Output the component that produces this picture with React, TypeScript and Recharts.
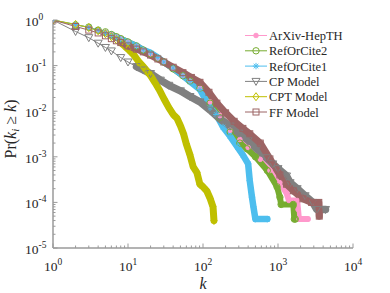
import React from 'react';
import { LineChart, Line, XAxis, YAxis } from 'recharts';

const AXIS = '#9a9a9a';
const TEXT = '#262626';
const FONT = 'Liberation Serif';
const fontStyle = { fontFamily: "'Liberation Serif', 'Times New Roman', Times, serif" };

// ---- data ----
const arxivK = [1, 2, 3, 4, 5, 6, 7, 8, 10, 13, 16, 20, 25, 30, 40, 54, 67, 91, 124, 168, 230, 310, 400, 580, 780, 1060, 1300, 1400, 1800, 1850, 1900, 2500];
const arxivP = [1, 0.79, 0.69, 0.6, 0.54, 0.48, 0.43, 0.39, 0.33, 0.27, 0.22, 0.18, 0.145, 0.12, 0.086, 0.06, 0.046, 0.032, 0.016, 0.008, 0.0038, 0.0024, 0.0016, 0.00088, 0.0005, 0.00027, 0.00016, 0.00011, 0.00011, 0.00007, 0.000043, 0.000043];

const roc2K = [1, 2, 3, 4, 5, 6, 7, 8, 10, 13, 16, 20, 25, 30, 40, 54, 67, 91, 124, 168, 230, 310, 385, 500, 720, 970, 1060, 1100, 1600, 1650, 1700];
const roc2P = [1, 0.78, 0.7, 0.6, 0.55, 0.48, 0.43, 0.39, 0.33, 0.27, 0.22, 0.18, 0.145, 0.12, 0.085, 0.06, 0.046, 0.032, 0.015, 0.0072, 0.0035, 0.002, 0.0015, 0.001, 0.0005, 0.00022, 0.00013, 0.00009, 0.00009, 0.000043, 0.000043];

const roc1K = [1, 2, 3, 4, 5, 6, 7, 8, 10, 13, 16, 20, 25, 30, 40, 54, 67, 91, 124, 150, 185, 230, 290, 340, 400, 420, 450, 470, 500, 720];
const roc1P = [1, 0.8, 0.68, 0.6, 0.53, 0.47, 0.42, 0.38, 0.32, 0.27, 0.22, 0.19, 0.15, 0.12, 0.088, 0.06, 0.045, 0.03, 0.012, 0.0085, 0.0045, 0.0028, 0.0016, 0.0011, 0.0007, 0.0003, 0.00013, 0.00008, 0.000043, 0.000043];

const cpK = [1, 2, 3, 4, 5, 6, 8, 10, 13, 16, 20, 27, 35, 50, 67, 91, 125, 168, 230, 300, 400, 520, 700, 850, 1000, 1300, 1450, 1800, 2300, 2900, 3300, 4300];
const cpP = [1, 0.56, 0.41, 0.31, 0.25, 0.21, 0.15, 0.12, 0.095, 0.08, 0.067, 0.048, 0.037, 0.028, 0.021, 0.016, 0.0105, 0.0068, 0.0047, 0.0033, 0.0023, 0.0015, 0.00095, 0.0007, 0.00055, 0.00038, 0.00027, 0.0002, 0.00014, 0.0001, 0.00007, 0.00007];

const cptK = [1, 2, 3, 4, 5, 6, 7, 8, 9, 10, 12, 14, 16, 18, 20, 23, 26, 30, 35, 40, 45, 50, 55, 60, 67, 74, 83, 91, 100, 112, 125, 136, 140];
const cptP = [1, 0.8, 0.68, 0.58, 0.5, 0.43, 0.37, 0.32, 0.27, 0.23, 0.17, 0.12, 0.095, 0.075, 0.06, 0.042, 0.03, 0.019, 0.012, 0.0085, 0.007, 0.0048, 0.0032, 0.0019, 0.0011, 0.0006, 0.00045, 0.00025, 0.00022, 0.00018, 0.00012, 0.00008, 0.00004];

const ffK = [1, 2, 3, 4, 5, 6, 7, 8, 10, 13, 16, 20, 25, 30, 40, 54, 70, 91, 120, 153, 200, 260, 340, 420, 580, 780, 1060, 1300, 1600, 2150, 2800, 3500, 3550];
const ffP = [1, 0.72, 0.6, 0.52, 0.45, 0.39, 0.35, 0.32, 0.27, 0.23, 0.2, 0.17, 0.14, 0.12, 0.092, 0.07, 0.055, 0.043, 0.026, 0.015, 0.0092, 0.006, 0.0042, 0.0032, 0.002, 0.0009, 0.0004, 0.00025, 0.00018, 0.00012, 0.0001, 0.0001, 0.00005];

const seriesNames = ['ArXiv-HepTH', 'RefOrCite2', 'RefOrCite1', 'CP Model', 'CPT Model', 'FF Model'];
const seriesColors = ['#FF99CC', '#77AC30', '#4DBEEE', '#808080', '#BFBF00', '#9C6464'];
const seriesShapes = ['dot', 'circle', 'star', 'tri', 'diamond', 'square'];
const seriesK = [arxivK, roc2K, roc1K, cpK, cptK, ffK];
const seriesP = [arxivP, roc2P, roc1P, cpP, cptP, ffP];
const bandStart = [6, 6, 6, 13, 8, 8];
const bandWidth = [6, 6, 6.5, 7.5, 7, 7];

const xDecades = [1, 10, 100, 1000, 10000];
const yDecades = [1e-5, 1e-4, 1e-3, 1e-2, 1e-1, 1];

const withMinors = (dec: number[]) => {
  const out: number[] = [];
  dec.forEach((d, i) => {
    out.push(d);
    if (i < dec.length - 1) for (let m = 2; m <= 9; m++) out.push(d * m);
  });
  return out;
};
const xTicks = withMinors(xDecades);
const yTicks = withMinors(yDecades);

const isMajor = (v: number) => Math.abs(Math.log10(v) - Math.round(Math.log10(v))) < 1e-6;

function Marker({ shape, cx, cy, color }: any) {
  if (cx == null || cy == null) return null;
  switch (shape) {
    case 'dot':
      return <circle cx={cx} cy={cy} r={2.3} fill={color} stroke={color} strokeWidth={1} />;
    case 'circle':
      return <circle cx={cx} cy={cy} r={3.2} fill="none" stroke={color} strokeWidth={1} />;
    case 'star':
      return (
        <g stroke={color} strokeWidth={1}>
          <line x1={cx - 3.2} y1={cy} x2={cx + 3.2} y2={cy} />
          <line x1={cx} y1={cy - 3.2} x2={cx} y2={cy + 3.2} />
          <line x1={cx - 2.3} y1={cy - 2.3} x2={cx + 2.3} y2={cy + 2.3} />
          <line x1={cx - 2.3} y1={cy + 2.3} x2={cx + 2.3} y2={cy - 2.3} />
        </g>
      );
    case 'tri':
      return <polygon points={`${cx - 4},${cy - 3} ${cx + 4},${cy - 3} ${cx},${cy + 4}`} fill="none" stroke={color} strokeWidth={1} />;
    case 'diamond':
      return <polygon points={`${cx},${cy - 4} ${cx + 3},${cy} ${cx},${cy + 4} ${cx - 3},${cy}`} fill="none" stroke={color} strokeWidth={1} />;
    default:
      return <rect x={cx - 3} y={cy - 3} width={6} height={6} fill="none" stroke={color} strokeWidth={1} />;
  }
}

function XTick(props: any) {
  const { x, y, payload } = props;
  const v = payload.value;
  const major = isMajor(v);
  const e = Math.round(Math.log10(v));
  return (
    <g>
      <line x1={x} x2={x} y1={y} y2={y - (major ? 4.5 : 2.5)} stroke={AXIS} strokeWidth={1} />
      {major && (
        <text x={x} y={y + 23} textAnchor="middle" fill={TEXT} style={fontStyle} fontSize={13.5}>
          <tspan>10</tspan>
          <tspan dy={-6} fontSize={9.5}>{e}</tspan>
        </text>
      )}
    </g>
  );
}

function YTick(props: any) {
  const { x, y, payload } = props;
  const v = payload.value;
  const major = isMajor(v);
  const e = Math.round(Math.log10(v));
  return (
    <g>
      <line x1={x} x2={x + (major ? 4.5 : 2.5)} y1={y} y2={y} stroke={AXIS} strokeWidth={1} />
      {major && (
        <text x={x - 28} y={y + 6} textAnchor="start" fill={TEXT} style={fontStyle} fontSize={13.5}>
          <tspan>10</tspan>
          <tspan dy={-6} fontSize={9.5}>{e}</tspan>
        </text>
      )}
    </g>
  );
}

export default function App() {
  const series = seriesNames.map((name, i) => ({
    name,
    color: seriesColors[i],
    shape: seriesShapes[i],
    width: bandWidth[i],
    data: seriesK[i].map((k, j) => ({ k, p: seriesP[i][j] })),
    band: seriesK[i].map((k, j) => ({ k, p: seriesP[i][j] })).filter((d) => d.k >= bandStart[i]),
  }));

  const legendY0 = 35.5;
  const legendDy = 15.3;

  return (
    <div style={{ position: 'absolute', left: 0, top: 0, width: 390, height: 293, background: '#fff', fontFamily: FONT }}>
      <LineChart width={390} height={293} margin={{ top: 20, right: 37, bottom: 0, left: 0 }}>
        <XAxis
          type="number"
          dataKey="k"
          scale="log"
          domain={[1, 10000]}
          allowDataOverflow
          ticks={xTicks}
          interval={0}
          tickSize={0}
          tickMargin={0}
          tickLine={false}
          axisLine={{ stroke: AXIS, strokeWidth: 1.5 }}
          tick={<XTick />}
          height={45}
        />
        <YAxis
          type="number"
          dataKey="p"
          scale="log"
          domain={[1e-5, 1]}
          allowDataOverflow
          ticks={yTicks}
          interval={0}
          tickSize={0}
          tickMargin={0}
          tickLine={false}
          axisLine={{ stroke: AXIS, strokeWidth: 1.5 }}
          tick={<YTick />}
          width={53}
        />
        {series.flatMap((s) => [
          <Line
            key={s.name + '-band'}
            data={s.band}
            dataKey="p"
            stroke={s.color}
            strokeWidth={s.width}
            strokeLinejoin="round"
            strokeLinecap="round"
            dot={false}
            activeDot={false}
            legendType="none"
            isAnimationActive={false}
          />,
          <Line
            key={s.name}
            data={s.data}
            dataKey="p"
            name={s.name}
            stroke={s.color}
            strokeWidth={1}
            dot={(p: any) => <Marker key={`${s.name}-${p.index}`} shape={s.shape} cx={p.cx} cy={p.cy} color={s.color} />}
            activeDot={false}
            isAnimationActive={false}
          />,
        ])}
      </LineChart>
      <svg width={390} height={293} style={{ position: 'absolute', left: 0, top: 0, pointerEvents: 'none' }}>
        {seriesNames.map((name, i) => {
          const y = legendY0 + i * legendDy;
          return (
            <g key={name}>
              <line x1={245} x2={267} y1={y} y2={y} stroke={seriesColors[i]} strokeWidth={1} />
              <Marker shape={seriesShapes[i]} cx={256} cy={y} color={seriesColors[i]} />
              <text x={269} y={y + 4.5} fill={TEXT} style={fontStyle} fontSize={12.5}>
                {name}
              </text>
            </g>
          );
        })}
        <text x={203} y={289} textAnchor="middle" fill={TEXT} style={fontStyle} fontSize={16} fontStyle="italic">
          k
        </text>
        <text
          transform="translate(16,129) rotate(-90)"
          textAnchor="middle"
          fill={TEXT}
          style={fontStyle}
          fontSize={16}
        >
          <tspan>Pr(</tspan>
          <tspan fontStyle="italic">k</tspan>
          <tspan fontStyle="italic" fontSize={11} dy={3}>i</tspan>
          <tspan dy={-3}> ≥ </tspan>
          <tspan fontStyle="italic">k</tspan>
          <tspan>)</tspan>
        </text>
      </svg>
    </div>
  );
}
